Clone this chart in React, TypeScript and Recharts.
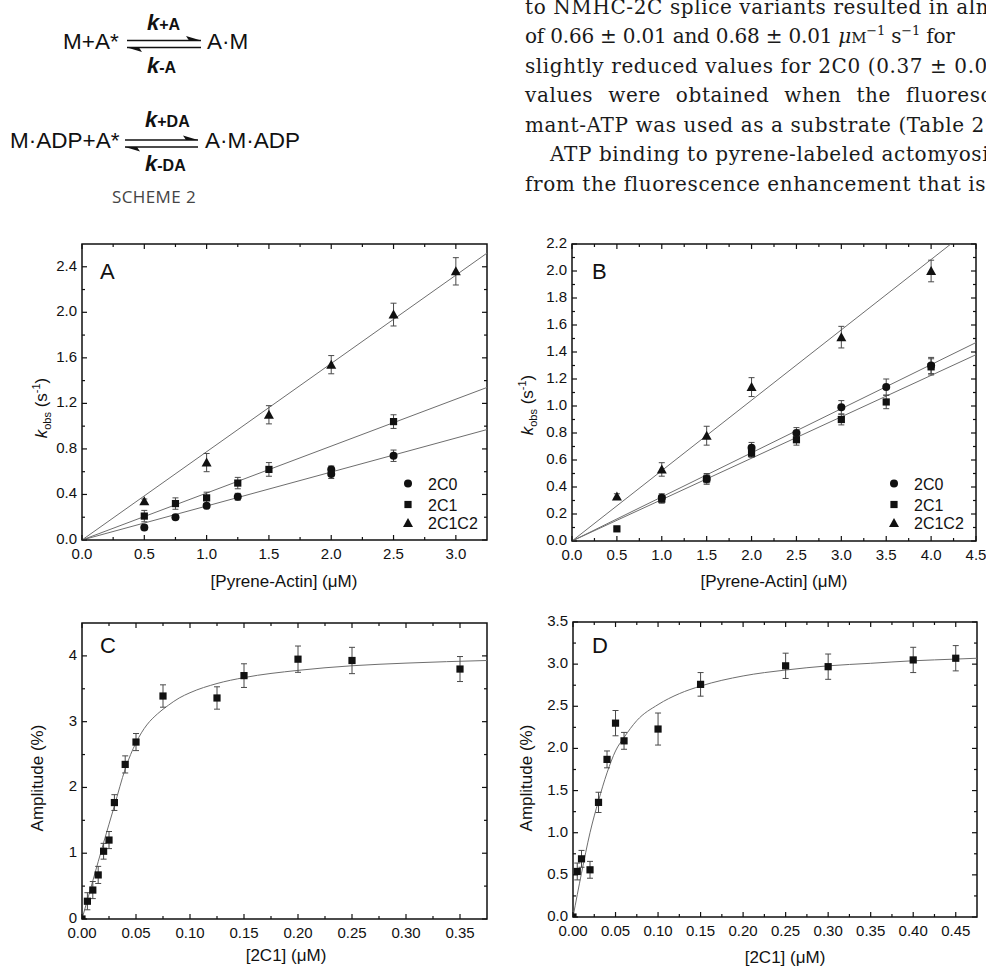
import React from 'react';
import { ComposedChart, Scatter, Line, XAxis, YAxis, ErrorBar, ReferenceArea } from 'recharts';

const SANS = '"Liberation Sans", Arial, sans-serif';
const SERIF = '"DejaVu Serif", serif';
const INK = '#111';
const FIT = '#6e6e6e';
const BAR = '#4a4a4a';

// ---- A: k_obs vs [pyrene-actin] ----
const aX2C0 = [0.5, 0.75, 1.0, 1.25, 2.0, 2.0, 2.5];
const aY2C0 = [0.11, 0.2, 0.3, 0.38, 0.62, 0.58, 0.74];
const aE2C0 = [0.02, 0.02, 0.02, 0.03, 0.03, 0.04, 0.05];
const aX2C1 = [0.5, 0.75, 1.0, 1.25, 1.5, 2.5];
const aY2C1 = [0.21, 0.32, 0.37, 0.5, 0.62, 1.04];
const aE2C1 = [0.05, 0.05, 0.05, 0.05, 0.06, 0.06];
const aX2C1C2 = [0.5, 1.0, 1.5, 2.0, 2.5, 3.0];
const aY2C1C2 = [0.34, 0.68, 1.1, 1.54, 1.98, 2.36];
const aE2C1C2 = [0.02, 0.08, 0.08, 0.08, 0.1, 0.12];
const aFitX = [0, 3.25];
const aFit2C0 = [0, 0.97];
const aFit2C1 = [0, 1.34];
const aFit2C1C2 = [0, 2.52];
const aXTicks = [0, 0.25, 0.5, 0.75, 1, 1.25, 1.5, 1.75, 2, 2.25, 2.5, 2.75, 3];
const aXMajor = [0, 0.5, 1, 1.5, 2, 2.5, 3];
const aYTicks = [0, 0.2, 0.4, 0.6, 0.8, 1.0, 1.2, 1.4, 1.6, 1.8, 2.0, 2.2, 2.4];
const aYMajor = [0, 0.4, 0.8, 1.2, 1.6, 2.0, 2.4];

// ---- B ----
const bX2C0 = [1.0, 1.5, 2.0, 2.5, 3.0, 3.5, 4.0];
const bY2C0 = [0.32, 0.46, 0.69, 0.8, 0.99, 1.14, 1.3];
const bE2C0 = [0.03, 0.03, 0.04, 0.04, 0.05, 0.06, 0.06];
const bX2C1 = [0.5, 1.0, 1.5, 2.0, 2.5, 3.0, 3.5, 4.0];
const bY2C1 = [0.09, 0.31, 0.46, 0.65, 0.75, 0.9, 1.03, 1.29];
const bE2C1 = [0.01, 0.03, 0.04, 0.03, 0.04, 0.04, 0.05, 0.06];
const bX2C1C2 = [0.5, 1.0, 1.5, 2.0, 3.0, 4.0];
const bY2C1C2 = [0.33, 0.53, 0.78, 1.14, 1.51, 2.0];
const bE2C1C2 = [0.02, 0.05, 0.07, 0.07, 0.08, 0.08];
const bFitX = [0, 4.5];
const bFit2C0 = [0, 1.47];
const bFit2C1 = [0, 1.38];
const bFit2C1C2X = [0, 4.22];
const bFit2C1C2 = [0, 2.2];
const bXTicks = [0, 0.25, 0.5, 0.75, 1, 1.25, 1.5, 1.75, 2, 2.25, 2.5, 2.75, 3, 3.25, 3.5, 3.75, 4, 4.25, 4.5];
const bXMajor = [0, 0.5, 1, 1.5, 2, 2.5, 3, 3.5, 4, 4.5];
const bYTicks = [0, 0.1, 0.2, 0.3, 0.4, 0.5, 0.6, 0.7, 0.8, 0.9, 1.0, 1.1, 1.2, 1.3, 1.4, 1.5, 1.6, 1.7, 1.8, 1.9, 2.0, 2.1, 2.2];
const bYMajor = [0, 0.2, 0.4, 0.6, 0.8, 1.0, 1.2, 1.4, 1.6, 1.8, 2.0, 2.2];

// ---- C: amplitude vs [2C1] ----
const cX = [0, 0.005, 0.01, 0.015, 0.02, 0.025, 0.03, 0.04, 0.05, 0.075, 0.125, 0.15, 0.2, 0.25, 0.35];
const cY = [0, 0.27, 0.44, 0.67, 1.03, 1.2, 1.77, 2.35, 2.69, 3.39, 3.36, 3.7, 3.95, 3.93, 3.8];
const cE = [0, 0.13, 0.13, 0.13, 0.12, 0.13, 0.12, 0.13, 0.13, 0.17, 0.17, 0.18, 0.2, 0.2, 0.19];
const cFitX = [0, 0.01, 0.02, 0.03, 0.04, 0.045, 0.05, 0.055, 0.06, 0.07, 0.08, 0.09, 0.1, 0.125, 0.15, 0.2, 0.25, 0.3, 0.375];
const cFitY = [0, 0.58, 1.16, 1.72, 2.28, 2.5, 2.68, 2.83, 2.95, 3.12, 3.25, 3.36, 3.44, 3.58, 3.67, 3.78, 3.85, 3.89, 3.93];
const cXTicks = [0, 0.025, 0.05, 0.075, 0.1, 0.125, 0.15, 0.175, 0.2, 0.225, 0.25, 0.275, 0.3, 0.325, 0.35];
const cXMajor = [0, 0.05, 0.1, 0.15, 0.2, 0.25, 0.3, 0.35];
const cYTicks = [0, 0.5, 1, 1.5, 2, 2.5, 3, 3.5, 4];
const cYMajor = [0, 1, 2, 3, 4];

// ---- D ----
const dX = [0, 0.005, 0.01, 0.02, 0.03, 0.04, 0.05, 0.06, 0.1, 0.15, 0.25, 0.3, 0.4, 0.45];
const dY = [0, 0.54, 0.69, 0.56, 1.36, 1.87, 2.3, 2.09, 2.23, 2.76, 2.98, 2.97, 3.05, 3.07];
const dE = [0, 0.1, 0.1, 0.1, 0.12, 0.1, 0.15, 0.1, 0.19, 0.14, 0.15, 0.15, 0.15, 0.15];
const dFitX = [0, 0.01, 0.02, 0.03, 0.04, 0.05, 0.06, 0.075, 0.1, 0.125, 0.15, 0.2, 0.25, 0.3, 0.35, 0.4, 0.45, 0.475];
const dFitY = [0, 0.52, 1.0, 1.38, 1.71, 1.97, 2.13, 2.33, 2.52, 2.65, 2.74, 2.86, 2.93, 2.98, 3.01, 3.04, 3.06, 3.07];
const dXTicks = [0, 0.025, 0.05, 0.075, 0.1, 0.125, 0.15, 0.175, 0.2, 0.225, 0.25, 0.275, 0.3, 0.325, 0.35, 0.375, 0.4, 0.425, 0.45];
const dXMajor = [0, 0.05, 0.1, 0.15, 0.2, 0.25, 0.3, 0.35, 0.4, 0.45];
const dYTicks = [0, 0.25, 0.5, 0.75, 1, 1.25, 1.5, 1.75, 2, 2.25, 2.5, 2.75, 3, 3.25, 3.5];
const dYMajor = [0, 0.5, 1, 1.5, 2, 2.5, 3, 3.5];

const pts = (xs: number[], ys: number[], es?: number[]) =>
  xs.map((x, i) => ({ x, y: ys[i], e: es ? es[i] : 0 }));

const circle = (p: any) => <circle cx={p.cx} cy={p.cy} r={4} fill={INK} />;
const square = (p: any) => (
  <rect x={p.cx - 3.6} y={p.cy - 3.6} width={7.2} height={7.2} fill={INK} />
);
const triangle = (p: any) => (
  <polygon points={`${p.cx},${p.cy - 5} ${p.cx + 5},${p.cy + 4} ${p.cx - 5},${p.cy + 4}`} fill={INK} />
);

const PL = 70;
const PT = 10;
const near = (v: number, arr: number[]) => arr.some((m) => Math.abs(m - v) < 1e-9);

function Panel(props: any) {
  const { left, top, w, h, xDomain, yDomain, xTicks, xMajor, yTicks, yMajor, xDigits, yDigits, scatters, lines } = props;
  const yb = PT + h;
  const xr = PL + w;

  const xTick = (p: any) => {
    const v = p.payload.value;
    const major = near(v, xMajor);
    const len = major ? 5 : 3;
    return (
      <g>
        <line x1={p.x} x2={p.x} y1={yb} y2={yb - len} stroke={INK} strokeWidth={1.2} />
        <line x1={p.x} x2={p.x} y1={PT} y2={PT + len} stroke={INK} strokeWidth={1.2} />
        {major && (
          <text x={p.x} y={yb + 19} textAnchor="middle" fontSize={15} fontFamily={SANS} fill={INK}>
            {v.toFixed(xDigits)}
          </text>
        )}
      </g>
    );
  };

  const yTick = (p: any) => {
    const v = p.payload.value;
    const major = near(v, yMajor);
    const len = major ? 5 : 3;
    return (
      <g>
        <line x1={PL} x2={PL + len} y1={p.y} y2={p.y} stroke={INK} strokeWidth={1.2} />
        <line x1={xr} x2={xr - len} y1={p.y} y2={p.y} stroke={INK} strokeWidth={1.2} />
        {major && (
          <text x={PL - 5} y={p.y + 4} textAnchor="end" fontSize={15} fontFamily={SANS} fill={INK}>
            {v.toFixed(yDigits)}
          </text>
        )}
      </g>
    );
  };

  return (
    <div style={{ position: 'absolute', left: left - PL, top: top - PT }}>
      <ComposedChart width={PL + w + 10} height={PT + h + 60} margin={{ top: PT, right: 10, bottom: 0, left: 0 }}>
        <XAxis
          type="number"
          dataKey="x"
          domain={xDomain}
          ticks={xTicks}
          interval={0}
          tick={xTick}
          tickLine={false}
          axisLine={false}
          height={60}
          allowDataOverflow
        />
        <YAxis
          type="number"
          domain={yDomain}
          ticks={yTicks}
          interval={0}
          tick={yTick}
          tickLine={false}
          axisLine={false}
          width={PL}
          allowDataOverflow
        />
        <ReferenceArea
          x1={xDomain[0]}
          x2={xDomain[1]}
          y1={yDomain[0]}
          y2={yDomain[1]}
          fill="none"
          stroke={INK}
          strokeWidth={1.5}
          ifOverflow="visible"
        />
        {lines.map((l: any, i: number) => (
          <Line
            key={'l' + i}
            data={l.data}
            dataKey="y"
            type={l.curve ? 'monotone' : 'linear'}
            stroke={FIT}
            strokeWidth={1}
            dot={false}
            activeDot={false}
            isAnimationActive={false}
          />
        ))}
        {scatters.map((s: any, i: number) => (
          <Scatter key={'s' + i} data={s.data} dataKey="y" shape={s.shape} isAnimationActive={false}>
            <ErrorBar dataKey="e" direction="y" width={3} stroke={BAR} strokeWidth={1} />
          </Scatter>
        ))}
      </ComposedChart>
    </div>
  );
}

const Harpoons = ({ x1, x2, y }: { x1: number; x2: number; y: number }) => (
  <g>
    <line x1={x1} x2={x2} y1={y} y2={y} stroke={INK} strokeWidth={1.4} />
    <polygon points={`${x2},${y} ${x2 - 15},${y - 4.5} ${x2 - 12},${y}`} fill={INK} />
    <line x1={x1} x2={x2} y1={y + 7} y2={y + 7} stroke={INK} strokeWidth={1.4} />
    <polygon points={`${x1},${y + 7} ${x1 + 15},${y + 11.5} ${x1 + 12},${y + 7}`} fill={INK} />
  </g>
);

const Rate = ({ x, y, sub }: { x: number; y: number; sub: string }) => (
  <text x={x} y={y} fontFamily={SANS} fontWeight="bold" fill={INK}>
    <tspan fontStyle="italic" fontSize={22}>k</tspan>
    <tspan fontSize={16}>{sub}</tspan>
  </text>
);

const KobsTitle = ({ cx, cy }: { cx: number; cy: number }) => (
  <text transform={`rotate(-90 ${cx} ${cy})`} x={cx} y={cy} textAnchor="middle" fontSize={17} fontFamily={SANS} fill={INK}>
    <tspan fontStyle="italic">k</tspan>
    <tspan fontSize={11} dy={4}>obs</tspan>
    <tspan dy={-4}> (s</tspan>
    <tspan fontSize={11} dy={-7}>-1</tspan>
    <tspan dy={7}>)</tspan>
  </text>
);

const LegendBox = ({ x, y }: { x: number; y: number }) => (
  <g fontFamily={SANS} fontSize={16} fill={INK}>
    {circle({ cx: x, cy: y })}
    <text x={x + 20} y={y + 6.5}>2C0</text>
    {square({ cx: x, cy: y + 21 })}
    <text x={x + 20} y={y + 27}>2C1</text>
    {triangle({ cx: x, cy: y + 39.5 })}
    <text x={x + 20} y={y + 45.5}>2C1C2</text>
  </g>
);

const BODY = [
  { x: 525, y: 13.5, t: 'to NMHC-2C splice variants resulted in almost' },
  { x: 525, y: 72.5, t: 'slightly reduced values for 2C0 (0.37 ± 0.01' },
  { x: 525, y: 131.5, t: 'mant-ATP was used as a substrate (Table 2)' },
  { x: 550, y: 161, t: 'ATP binding to pyrene-labeled actomyosin' },
  { x: 525, y: 190.5, t: 'from the fluorescence enhancement that is' },
];

export default function App() {
  return (
    <div style={{ position: 'fixed', left: 0, top: 0, width: 986, height: 968, overflow: 'hidden', background: '#fff' }}>
      <Panel
        left={82} top={244} w={405} h={296}
        xDomain={[0, 3.25]} yDomain={[0, 2.6]}
        xTicks={aXTicks} xMajor={aXMajor} yTicks={aYTicks} yMajor={aYMajor} xDigits={1} yDigits={1}
        lines={[
          { data: pts(aFitX, aFit2C0) },
          { data: pts(aFitX, aFit2C1) },
          { data: pts(aFitX, aFit2C1C2) },
        ]}
        scatters={[
          { data: pts(aX2C0, aY2C0, aE2C0), shape: circle },
          { data: pts(aX2C1, aY2C1, aE2C1), shape: square },
          { data: pts(aX2C1C2, aY2C1C2, aE2C1C2), shape: triangle },
        ]}
      />
      <Panel
        left={572} top={244} w={404} h={297}
        xDomain={[0, 4.5]} yDomain={[0, 2.2]}
        xTicks={bXTicks} xMajor={bXMajor} yTicks={bYTicks} yMajor={bYMajor} xDigits={1} yDigits={1}
        lines={[
          { data: pts(bFitX, bFit2C0) },
          { data: pts(bFitX, bFit2C1) },
          { data: pts(bFit2C1C2X, bFit2C1C2) },
        ]}
        scatters={[
          { data: pts(bX2C0, bY2C0, bE2C0), shape: circle },
          { data: pts(bX2C1, bY2C1, bE2C1), shape: square },
          { data: pts(bX2C1C2, bY2C1C2, bE2C1C2), shape: triangle },
        ]}
      />
      <Panel
        left={82} top={623} w={405} h={296}
        xDomain={[0, 0.375]} yDomain={[0, 4.5]}
        xTicks={cXTicks} xMajor={cXMajor} yTicks={cYTicks} yMajor={cYMajor} xDigits={2} yDigits={0}
        lines={[{ data: pts(cFitX, cFitY), curve: true }]}
        scatters={[{ data: pts(cX, cY, cE), shape: square }]}
      />
      <Panel
        left={573} top={622} w={404} h={295}
        xDomain={[0, 0.475]} yDomain={[0, 3.5]}
        xTicks={dXTicks} xMajor={dXMajor} yTicks={dYTicks} yMajor={dYMajor} xDigits={2} yDigits={1}
        lines={[{ data: pts(dFitX, dFitY), curve: true }]}
        scatters={[{ data: pts(dX, dY, dE), shape: square }]}
      />

      <svg width={986} height={968} style={{ position: 'absolute', left: 0, top: 0, pointerEvents: 'none' }}>
        {/* scheme 2 */}
        <g fontFamily={SANS} fill={INK}>
          <text x={63} y={49} fontSize={22.5}>M+A*</text>
          <Harpoons x1={127} x2={201} y={40.5} />
          <text x={207} y={49} fontSize={22.5}>A·M</text>
          <Rate x={147} y={30} sub="+A" />
          <Rate x={147} y={73} sub="-A" />
          <text x={10} y={148} fontSize={22.5}>M·ADP+A*</text>
          <Harpoons x1={125} x2={198} y={140} />
          <text x={205} y={148} fontSize={22.5}>A·M·ADP</text>
          <Rate x={145} y={127} sub="+DA" />
          <Rate x={145} y={171} sub="-DA" />
          <text x={112} y={203} fontSize={17} fontFamily='"Open Sans", sans-serif' fill="#444" letterSpacing={0.4}>
            SCHEME 2
          </text>
        </g>

        {/* running text */}
        <g fontFamily={SERIF} fontSize={20} fill="#1a1a1a" letterSpacing={0.6}>
          {BODY.map((b) => (
            <text key={b.t} x={b.x} y={b.y}>{b.t}</text>
          ))}
          <text x={525} y={43} letterSpacing={-0.2}>
            of 0.66 ± 0.01 and 0.68 ± 0.01 <tspan fontStyle="italic">μ</tspan>
            <tspan fontSize={15}>M</tspan>
            <tspan fontSize={13} dy={-8}>−1</tspan>
            <tspan dy={8}> s</tspan>
            <tspan fontSize={13} dy={-8}>−1</tspan>
            <tspan dy={8}> for</tspan>
          </text>
          <text x={525} y={102} wordSpacing={8}>values were obtained when the fluorescent</text>
        </g>

        {/* panel letters */}
        <g fontFamily={SANS} fontSize={22} fill={INK}>
          <text x={100} y={279}>A</text>
          <text x={592} y={279}>B</text>
          <text x={100} y={653}>C</text>
          <text x={592} y={653}>D</text>
        </g>

        <LegendBox x={408} y={483.5} />
        <LegendBox x={894} y={483.5} />

        {/* axis titles */}
        <g fontFamily={SANS} fontSize={17} fill={INK}>
          <text x={284} y={587} textAnchor="middle">[Pyrene-Actin] (μM)</text>
          <text x={774} y={587} textAnchor="middle">[Pyrene-Actin] (μM)</text>
          <text x={286} y={961} textAnchor="middle">[2C1] (μM)</text>
          <text x={785} y={963} textAnchor="middle">[2C1] (μM)</text>
          <text transform="rotate(-90 43 778)" x={43} y={778} textAnchor="middle">Amplitude (%)</text>
          <text transform="rotate(-90 532 778)" x={532} y={778} textAnchor="middle">Amplitude (%)</text>
        </g>
        <KobsTitle cx={47} cy={408} />
        <KobsTitle cx={533} cy={405} />
      </svg>
    </div>
  );
}
